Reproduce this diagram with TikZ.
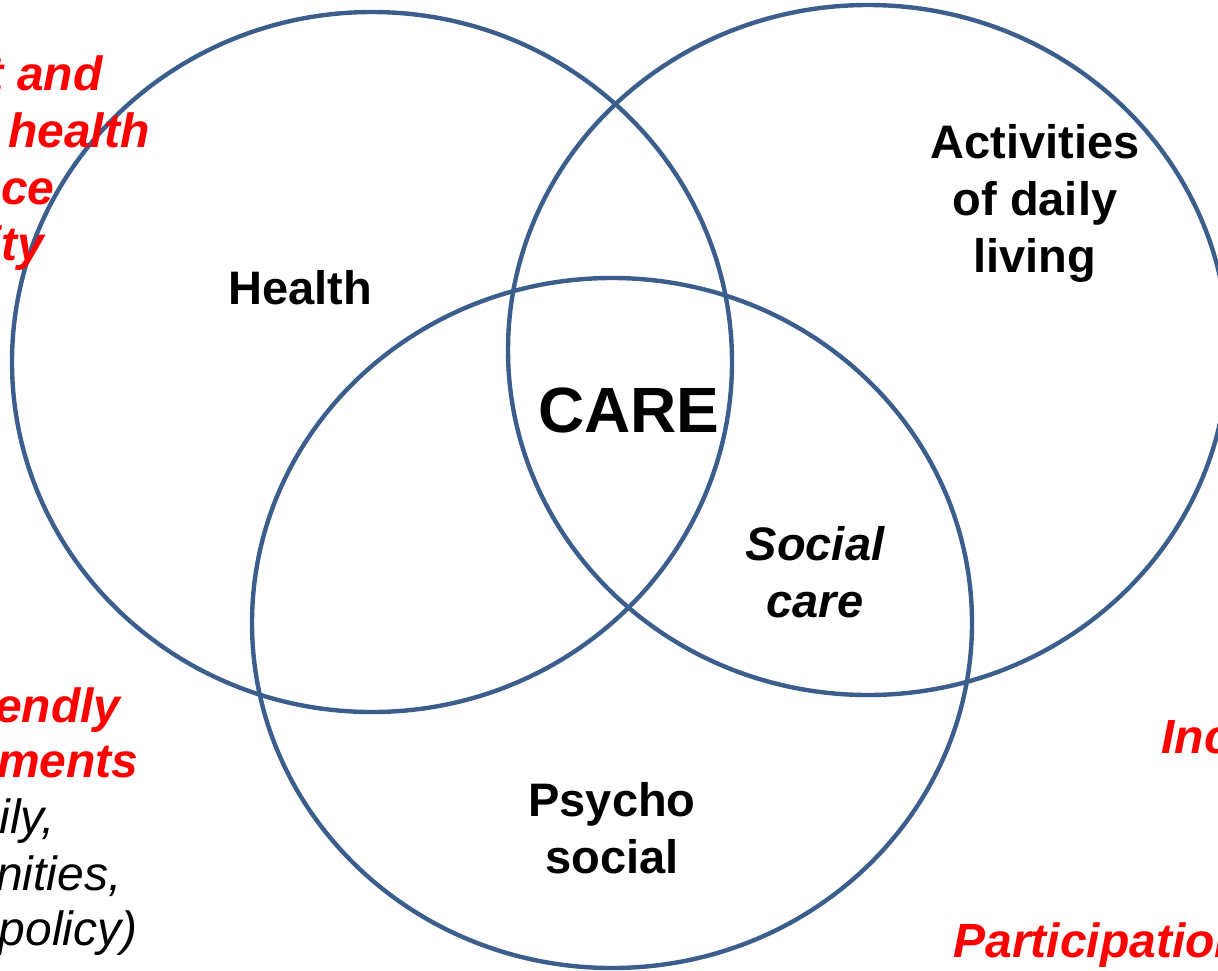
\documentclass[tikz,border=0pt]{standalone}
\usepackage{fontspec}
\setmainfont{Liberation Sans}
\usepackage{xcolor}
\definecolor{ringblue}{RGB}{59,94,140}

\begin{document}
\begin{tikzpicture}[x=0.5pt,y=-0.5pt,
  ring/.style={draw=ringblue,line width=2.2pt},
  lbl/.style={font=\fontsize{23.5}{28.5}\selectfont\bfseries,align=center,inner sep=0pt},
  ilbl/.style={lbl,font=\fontsize{23.5}{28.5}\selectfont\bfseries\itshape},
  goal/.style={font=\fontsize{24}{28.5}\selectfont\bfseries\itshape,text=red,inner sep=0pt},
  note/.style={font=\fontsize{24}{28.5}\selectfont\itshape,inner sep=0pt}
]

\useasboundingbox (0,0) rectangle (1218,970);
\clip (0,0) rectangle (1218,970);

% The three overlapping rings
\draw[ring] (372,362) ellipse [x radius=360,y radius=350];
\draw[ring] (868,350) ellipse [x radius=360,y radius=345];
\draw[ring] (612,623) ellipse [x radius=360,y radius=345];

% Ring labels
\node[lbl] (health) at (300,288) {Health};
\node[lbl] (adl) at (1035,203) {Activities\\of daily\\living};
\node[lbl] (psycho) at (612,828) {Psycho\\social};
\node[ilbl] (social) at (815,572) {Social\\care};
\node[lbl,font=\fontsize{32}{36}\selectfont\bfseries] (care) at (629,410) {CARE};

% Outcomes round the edge
\node[goal,anchor=base east] (g1) at (103,90) {t and};
\node[goal,anchor=base east] (g2) at (150,147) {health};
\node[goal,anchor=base east] (g3) at (55,204) {ce};
\node[goal,anchor=base east] (g4) at (45,260) {ity};

\node[goal,anchor=base east] (env1) at (121,722) {endly};
\node[goal,anchor=base east] (env2) at (139,777) {ments};
\node[note,anchor=base east] (env3) at (55,833) {mily,};
\node[note,anchor=base east] (env4) at (122,890) {nities,};
\node[note,anchor=base east] (env5) at (138,945) {policy)};

\node[goal,anchor=base west] (inc) at (1161,753) {Inc};
\node[goal,anchor=base west] (part) at (953,957) {Participation};

\end{tikzpicture}
\end{document}
